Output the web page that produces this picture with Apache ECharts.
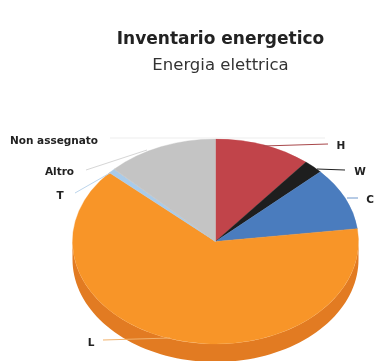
<!DOCTYPE html>
<html><head><meta charset="utf-8">
<style>html,body{margin:0;padding:0;background:#fff}#c{width:376px;height:361px}</style>
<script src="https://cdn.jsdelivr.net/npm/echarts@6/dist/echarts.min.js"></script>
</head><body><div id="c"></div>
<script>
const categories = ['H','W','C','L','T','Altro','Non assegnato'];
const shares = [10.9,2.2,9.9,63.7,0.75,0.05,12.5];
const sliceColors = ['#C1444A','#1E1E1E','#4A7CBE','#F89528','#A9CBEA','#C8C8C8','#C4C4C4'];
const sideColor = '#E27B22';
const title = 'Inventario energetico';
const subtitle = 'Energia elettrica';
const pieLayout = {cx:215.5, cy:241.5, rx:143, ry:102.5, depth:18};
// label position, then leader line from the label side to the pie
const callouts = [
 {x:341,y:146,a:'center',line:[[328,144],[263,146]],c:'#A8474A'},
 {x:360,y:172,a:'center',line:[[345,170],[317,169]],c:'#222222'},
 {x:370,y:200,a:'center',line:[[358,198],[347,198]],c:'#6F97CC'},
 {x:91,y:343,a:'center',line:[[103,340],[170,338]],c:'#F2B36D'},
 {x:60,y:196,a:'center',line:[[75,193],[110,173]],c:'#BCD5EC'},
 {x:59.5,y:172,a:'center',line:[[86,170],[147,150]],c:'#D6D6D6'},
 {x:54,y:141,a:'center',line:[[110,138],[325,138]],c:'#EDEDED'}
];
const total = shares.reduce((a,b)=>a+b,0);
const starts = []; shares.reduce((acc,v,i)=>{starts[i]=acc;return acc+v/total*Math.PI*2;},0);

function renderItem(params, api){
  const i = params.dataIndex, P = pieLayout;
  const a0 = starts[i]-Math.PI/2, a1 = a0+api.value(1)/total*Math.PI*2;
  const children = [];
  const lo = Math.max(a0,0), hi = Math.min(a1,Math.PI);
  if (hi>lo){
    const pts=[], n=80;
    for(let k=0;k<=n;k++){const t=lo+(hi-lo)*k/n;pts.push([P.cx+P.rx*Math.cos(t),P.cy+P.ry*Math.sin(t)]);}
    for(let k=n;k>=0;k--){const t=lo+(hi-lo)*k/n;pts.push([P.cx+P.rx*Math.cos(t),P.cy+P.ry*Math.sin(t)+P.depth]);}
    children.push({type:'polygon',shape:{points:pts},style:{fill:sideColor}});
  }
  children.push({type:'sector',x:P.cx,y:P.cy,scaleX:P.rx/100,scaleY:P.ry/100,
    shape:{cx:0,cy:0,r0:0,r:100,startAngle:a0,endAngle:a1,clockwise:true},
    style:{fill:sliceColors[i],stroke:sliceColors[i],lineWidth:0.3}});
  const c = callouts[i];
  children.push({type:'polyline',shape:{points:c.line},style:{fill:'none',stroke:c.c,lineWidth:1}});
  children.push({type:'text',x:c.x,y:c.y,style:{text:categories[i],fill:'#222',
    font:'bold 10.5px "DejaVu Sans"',align:c.a,verticalAlign:'middle'}});
  return {type:'group',children};
}
const chart = echarts.init(document.getElementById('c'),null,{renderer:'canvas'});
chart.setOption({
  backgroundColor:'#fff',animation:false,
  title:{text:title,subtext:subtitle,left:215.5,top:26,textAlign:'center',itemGap:9,
    textStyle:{fontFamily:'DejaVu Sans',fontSize:17,fontWeight:'bold',color:'#222'},
    subtextStyle:{fontFamily:'DejaVu Sans',fontSize:16.5,color:'#333'}},
  series:[{type:'custom',coordinateSystem:'none',renderItem,
    data:categories.map((n,i)=>[i,shares[i]])}]
});
</script></body></html>
